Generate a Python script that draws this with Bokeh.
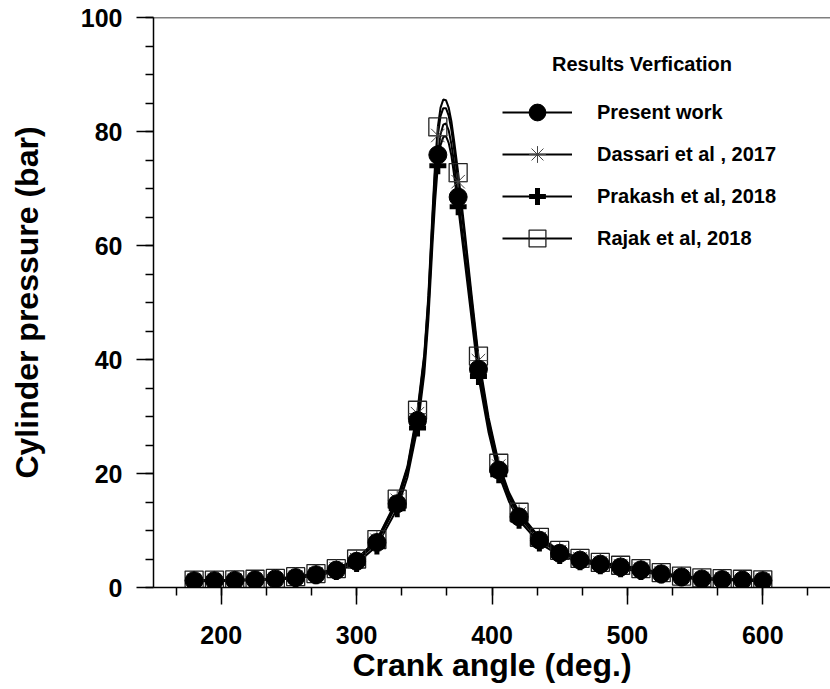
from bokeh.plotting import figure
from bokeh.models import (Range1d, SingleIntervalTicker, Legend, LegendItem,
                          Label, Span, ColumnDataSource)
from bokeh.embed import file_html
from bokeh.resources import INLINE

# ---------------- data ----------------
angles = [180, 195, 210, 225, 240, 255, 270, 285, 300, 315, 330, 345, 360, 375,
          390, 405, 420, 435, 450, 465, 480, 495, 510, 525, 540, 555, 570, 585, 600]

present = [1.2, 1.2, 1.25, 1.35, 1.5, 1.75, 2.25, 3.05, 4.6, 7.9, 14.7, 29.3, 75.9, 68.5,
           38.3, 20.6, 12.4, 8.3, 6.0, 4.8, 4.1, 3.6, 3.1, 2.4, 1.85, 1.5, 1.4, 1.3, 1.2]
dassari = [1.25, 1.25, 1.3, 1.4, 1.55, 1.85, 2.4, 3.25, 4.9, 8.3, 15.3, 30.5, 79.3, 71.2,
           39.8, 21.3, 12.9, 8.6, 6.3, 5.0, 4.3, 3.8, 3.2, 2.5, 1.95, 1.6, 1.5, 1.4, 1.3]
prakash = [1.1, 1.1, 1.15, 1.25, 1.4, 1.6, 2.05, 2.8, 4.2, 7.3, 13.8, 28.0, 74.0, 66.8,
           37.0, 19.8, 11.8, 7.8, 5.6, 4.5, 3.8, 3.3, 2.8, 2.2, 1.7, 1.4, 1.3, 1.2, 1.1]
rajak = [1.3, 1.3, 1.35, 1.45, 1.6, 1.9, 2.45, 3.3, 5.0, 8.4, 15.5, 31.1, 80.8, 72.8,
         40.6, 21.8, 13.2, 8.8, 6.5, 5.1, 4.4, 3.9, 3.3, 2.6, 2.0, 1.7, 1.55, 1.45, 1.35]

# smooth curves (denser near the peak)
curve_angles = [180, 195, 210, 225, 240, 255, 270, 285, 300, 315, 330, 337.5, 345,
                350, 353, 356, 358, 360, 362, 364, 366, 368, 370, 372, 375, 380, 385,
                390, 397.5, 405, 412.5, 420, 435, 450, 465, 480, 495, 510, 525, 540,
                555, 570, 585, 600]
present_curve = [1.2, 1.2, 1.25, 1.35, 1.5, 1.75, 2.25, 3.05, 4.6, 7.9, 14.7, 20.3, 29.3,
                 39.0, 48.5, 62.0, 70.0, 75.9, 79.5, 81.2, 81.4, 80.2, 77.8, 74.5, 68.5,
                 58.5, 48.3, 38.3, 28.2, 20.6, 15.8, 12.4, 8.3, 6.0, 4.8, 4.1, 3.6, 3.1,
                 2.4, 1.85, 1.5, 1.4, 1.3, 1.2]
dassari_curve = [1.25, 1.25, 1.3, 1.4, 1.55, 1.85, 2.4, 3.25, 4.9, 8.3, 15.3, 20.9, 30.5,
                 40.5, 50.5, 64.5, 73.3, 79.3, 82.7, 84.1, 84.1, 82.8, 80.3, 76.9, 71.2,
                 61.0, 50.3, 39.8, 29.2, 21.3, 16.4, 12.9, 8.6, 6.3, 5.0, 4.3, 3.8, 3.2,
                 2.5, 1.95, 1.6, 1.5, 1.4, 1.3]
prakash_curve = [1.1, 1.1, 1.15, 1.25, 1.4, 1.6, 2.05, 2.8, 4.2, 7.3, 13.8, 19.3, 28.0,
                 37.5, 47.0, 60.0, 67.8, 74.0, 77.6, 79.0, 79.2, 78.0, 75.8, 72.4, 66.8,
                 57.0, 47.0, 37.0, 27.2, 19.8, 15.1, 11.8, 7.8, 5.6, 4.5, 3.8, 3.3, 2.8,
                 2.2, 1.7, 1.4, 1.3, 1.2, 1.1]
rajak_curve = [1.3, 1.3, 1.35, 1.45, 1.6, 1.9, 2.45, 3.3, 5.0, 8.4, 15.5, 21.2, 31.1,
               41.0, 51.2, 65.5, 74.5, 80.8, 84.2, 85.6, 85.5, 84.2, 81.8, 78.4, 72.8,
               62.2, 51.2, 40.6, 29.8, 21.8, 16.7, 13.2, 8.8, 6.5, 5.1, 4.4, 3.9, 3.3,
               2.6, 2.0, 1.7, 1.55, 1.45, 1.35]

labels = ["Present work", "Dassari et al , 2017", "Prakash et al, 2018", "Rajak et al, 2018"]
legend_title = "Results Verfication"
x_label = "Crank angle (deg.)"
y_label = "Cylinder pressure (bar)"

FONT = "Liberation Sans"

# ---------------- figure ----------------
p = figure(width=830, height=689, output_backend="svg", toolbar_location=None,
           x_range=Range1d(150, 650), y_range=Range1d(0, 100),
           min_border_left=153, min_border_right=0, min_border_top=17,
           min_border_bottom=102,
           x_axis_label=x_label, y_axis_label=y_label)
p.outline_line_color = None
p.grid.visible = False
p.background_fill_color = "white"
p.border_fill_color = "white"

p.xaxis.ticker = SingleIntervalTicker(interval=100, num_minor_ticks=3)
p.yaxis.ticker = SingleIntervalTicker(interval=20, num_minor_ticks=4)
for ax in (p.xaxis, p.yaxis):
    ax.axis_line_color = "black"
    ax.axis_line_width = 1.5
    ax.major_tick_line_color = "black"
    ax.major_tick_line_width = 1.5
    ax.minor_tick_line_color = "black"
    ax.minor_tick_line_width = 1.5
    ax.major_tick_out = 17
    ax.major_tick_in = 0
    ax.minor_tick_out = 8
    ax.minor_tick_in = 0
    ax.major_label_text_font = FONT
    ax.major_label_text_font_style = "bold"
    ax.major_label_text_font_size = "25px"
    ax.major_label_text_color = "black"
    ax.axis_label_text_font = FONT
    ax.axis_label_text_font_style = "bold"
    ax.axis_label_text_font_size = "32px"
    ax.axis_label_text_color = "black"
p.xaxis.major_label_standoff = 21
p.xaxis.axis_label_standoff = 0
p.yaxis.major_label_standoff = 14
p.yaxis.axis_label_standoff = 33

p.add_layout(Span(location=100, dimension="width", line_color="black", line_width=1.5))

# ---------------- curves ----------------
curve_src = ColumnDataSource(dict(x=curve_angles, present=present_curve,
                                  dassari=dassari_curve, prakash=prakash_curve,
                                  rajak=rajak_curve))
pt_src = ColumnDataSource(dict(x=angles, present=present, dassari=dassari,
                               prakash=prakash, rajak=rajak))

l_r = p.line("x", "rajak", source=curve_src, line_color="black", line_width=2)
l_d = p.line("x", "dassari", source=curve_src, line_color="black", line_width=2)
l_k = p.line("x", "prakash", source=curve_src, line_color="black", line_width=2)
l_p = p.line("x", "present", source=curve_src, line_color="black", line_width=2)

s_r = p.scatter("x", "rajak", source=pt_src, marker="square", size=18,
                fill_color=None, line_color="#222222", line_width=1.3)
s_d = p.scatter("x", "dassari", source=pt_src, marker="asterisk", size=19,
                line_color="#444444", line_width=1)
s_k = p.scatter("x", "prakash", source=pt_src, marker="cross", size=17,
                line_color="black", line_width=5)
s_p = p.scatter("x", "present", source=pt_src, marker="circle", size=18,
                fill_color="black", line_color="black")

legend = Legend(items=[
    LegendItem(label=labels[0], renderers=[l_p, s_p]),
    LegendItem(label=labels[1], renderers=[l_d, s_d]),
    LegendItem(label=labels[2], renderers=[l_k, s_k]),
    LegendItem(label=labels[3], renderers=[l_r, s_r]),
], location=(349, 328), orientation="vertical", glyph_width=70, glyph_height=42,
    spacing=0, label_standoff=25, padding=0, margin=0,
    border_line_color=None, background_fill_alpha=0,
    label_text_font=FONT, label_text_font_style="bold",
    label_text_font_size="20px", label_text_color="black")
p.add_layout(legend)

p.add_layout(Label(x=488.5, y=524, x_units="screen", y_units="screen",
                   text=legend_title, text_align="center", text_baseline="middle",
                   text_font=FONT, text_font_style="bold", text_font_size="20px",
                   text_color="black"))

open("out.html", "w").write(file_html(p, INLINE))
